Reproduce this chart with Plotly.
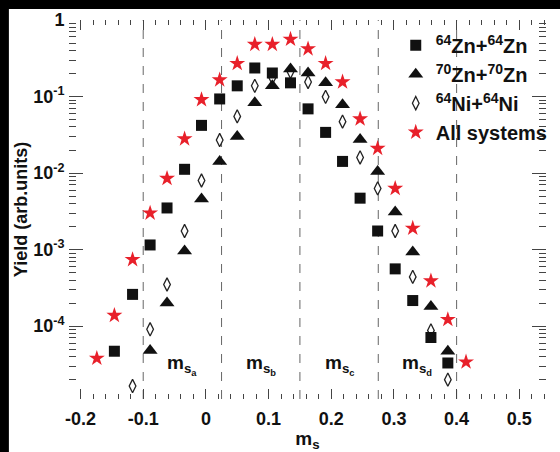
import plotly.graph_objects as go

# m_s bin centres and yields for each system
ms_all = [-0.174, -0.146, -0.117, -0.089, -0.062, -0.034, -0.007, 0.022, 0.050, 0.078, 0.106,
          0.135, 0.163, 0.191, 0.218, 0.246, 0.274, 0.302, 0.330, 0.359, 0.386, 0.415]
yield_all = [3.8e-5, 1.38e-4, 7.4e-4, 3.0e-3, 8.5e-3, 0.028, 0.091, 0.165, 0.27, 0.48, 0.48,
             0.56, 0.42, 0.27, 0.155, 0.051, 0.021, 6.3e-3, 1.9e-3, 3.9e-4, 1.22e-4, 3.4e-5]

ms_zn64 = [-0.146, -0.117, -0.089, -0.062, -0.034, -0.007, 0.022, 0.050, 0.078, 0.106,
           0.135, 0.163, 0.191, 0.218, 0.246, 0.274, 0.302, 0.330, 0.359, 0.386]
yield_zn64 = [4.7e-5, 2.6e-4, 1.15e-3, 3.5e-3, 0.0112, 0.042, 0.093, 0.138, 0.236, 0.203,
              0.151, 0.069, 0.034, 0.0142, 4.7e-3, 1.75e-3, 5.6e-4, 2.16e-4, 7.1e-5, 3.3e-5]

ms_zn70 = [-0.089, -0.062, -0.034, -0.007, 0.022, 0.050, 0.078, 0.106, 0.135,
           0.163, 0.191, 0.218, 0.246, 0.274, 0.302, 0.330, 0.359, 0.386]
yield_zn70 = [4.8e-5, 2.0e-4, 9.6e-4, 4.6e-3, 0.0142, 0.030, 0.083, 0.138, 0.229,
              0.203, 0.151, 0.078, 0.0274, 0.0105, 3.1e-3, 9.3e-4, 1.8e-4, 4.7e-5]

ms_ni64 = [-0.117, -0.089, -0.062, -0.034, -0.007, 0.022, 0.050, 0.078, 0.106, 0.135,
           0.163, 0.191, 0.218, 0.246, 0.274, 0.302, 0.330, 0.359, 0.386]
yield_ni64 = [1.65e-5, 9.1e-5, 3.5e-4, 1.75e-3, 8.0e-3, 0.027, 0.055, 0.138, 0.175, 0.21,
              0.155, 0.099, 0.047, 0.016, 6.3e-3, 1.75e-3, 4.4e-4, 8.8e-5, 2.0e-5]

# bin boundaries of the four m_s windows and their labels
window_edges = [-0.1, 0.025, 0.15, 0.275, 0.4]
window_labels = ["m<sub>s<sub>a</sub></sub>", "m<sub>s<sub>b</sub></sub>",
                 "m<sub>s<sub>c</sub></sub>", "m<sub>s<sub>d</sub></sub>"]

x_ticks = [-0.2, -0.1, 0, 0.1, 0.2, 0.3, 0.4, 0.5]
x_ticktext = ["-0.2", "-0.1", "0", "0.1", "0.2", "0.3", "0.4", "0.5"]
y_ticks = [1, 0.1, 0.01, 0.001, 0.0001]
y_ticktext = ["1", "10<sup>-1</sup>", "10<sup>-2</sup>", "10<sup>-3</sup>", "10<sup>-4</sup>"]

FONT = "Liberation Sans, Arial, Helvetica, sans-serif"

fig = go.Figure()
fig.add_trace(go.Scatter(
    x=ms_zn64, y=yield_zn64, mode="markers", name="<sup>64</sup>Zn+<sup>64</sup>Zn",
    marker=dict(symbol="square", size=11, color="#111111"), zorder=3))
fig.add_trace(go.Scatter(
    x=ms_zn70, y=yield_zn70, mode="markers", name="<sup>70</sup>Zn+<sup>70</sup>Zn",
    marker=dict(symbol="triangle-up", size=13, color="#111111"), zorder=2))
fig.add_trace(go.Scatter(
    x=ms_ni64, y=yield_ni64, mode="markers", name="<sup>64</sup>Ni+<sup>64</sup>Ni",
    marker=dict(symbol="diamond-tall", size=9.5, color="white",
                line=dict(color="#222222", width=1.3)), zorder=1))
fig.add_trace(go.Scatter(
    x=ms_all, y=yield_all, mode="markers", name="All systems",
    marker=dict(symbol="star", size=12, color="#e8202a", line=dict(width=0)), zorder=4))

shapes = []
for edge in window_edges:
    shapes.append(dict(type="line", xref="x", yref="paper", x0=edge, x1=edge, y0=0, y1=1,
                       line=dict(color="#666666", width=1, dash="dash"), layer="below"))
# dark frame bands along the top and left edges of the page
shapes.append(dict(type="rect", xref="paper", yref="paper", x0=-0.2, x1=1.1,
                   y0=1.0289, y1=1.2, fillcolor="black", line=dict(width=0), layer="above"))
shapes.append(dict(type="rect", xref="paper", yref="paper", x0=-0.2, x1=-0.126,
                   y0=-0.2, y1=1.2, fillcolor="black", line=dict(width=0), layer="above"))

annotations = []
for i, lab in enumerate(window_labels):
    annotations.append(dict(x=(window_edges[i] + window_edges[i + 1]) / 2, y=0.09,
                            xref="x", yref="paper", text=lab, showarrow=False,
                            font=dict(family=FONT, size=19, color="#111111", weight="bold"),
                            xanchor="center", yanchor="middle"))

axis_common = dict(showline=True, linecolor="#444444", linewidth=1, mirror="ticks",
                   ticks="inside", tickcolor="#444444", showgrid=False, zeroline=False,
                   tickfont=dict(family=FONT, size=18, color="#111111", weight="bold"))

fig.update_layout(
    width=560, height=452,
    margin=dict(l=69, r=7, t=20, b=51),
    paper_bgcolor="white", plot_bgcolor="white",
    showlegend=True,
    legend=dict(x=0.685, y=0.985, xanchor="left", yanchor="top", bgcolor="rgba(0,0,0,0)",
                font=dict(family=FONT, size=20, color="#111111", weight="bold"),
                itemsizing="trace", tracegroupgap=0),
    shapes=shapes,
    annotations=annotations,
    xaxis=dict(**axis_common, range=[-0.2184, 0.5426], tickmode="array",
               tickvals=x_ticks, ticktext=x_ticktext, ticklen=10, ticklabelstandoff=3,
               minor=dict(dtick=0.02, ticks="inside", ticklen=5, tickcolor="#444444"),
               title=dict(text="m<sub>s</sub>", standoff=3,
                          font=dict(family=FONT, size=19, color="#111111", weight="bold"))),
    yaxis=dict(**axis_common, type="log", range=[-4.952, 0], tickmode="array",
               tickvals=y_ticks, ticktext=y_ticktext, ticklen=14,
               minor=dict(dtick="D1", ticks="inside", ticklen=7, tickcolor="#444444"),
               title=dict(text="Yield (arb.units)", standoff=0,
                          font=dict(family=FONT, size=18, color="#111111", weight="bold"))),
)

fig.write_html("out.html")
